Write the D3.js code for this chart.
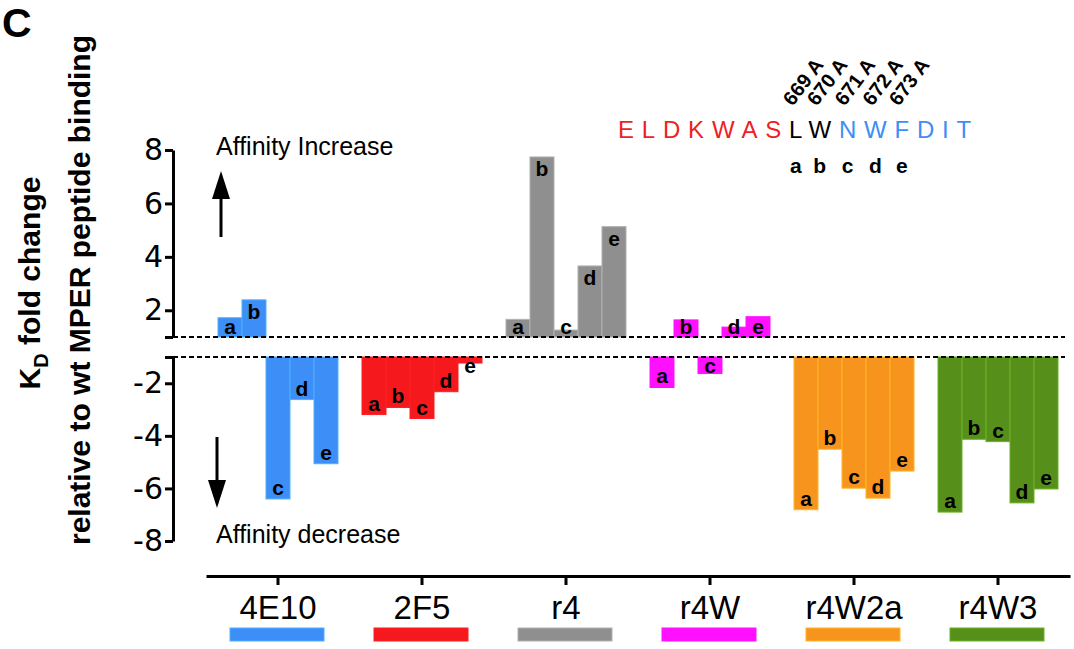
<!DOCTYPE html>
<html>
<head>
<meta charset="utf-8">
<script src="https://cdn.jsdelivr.net/npm/d3@7"></script>
<style>
    body { margin: 0; background: #fff; }
    svg text { font-family: "Liberation Sans", Arial, Helvetica, sans-serif; }
</style>
</head>
<body>
<div id="chart-area"></div>
<script>
const groups = ['4E10', '2F5', 'r4', 'r4W', 'r4W2a', 'r4W3'];
const mutants = ['a', 'b', 'c', 'd', 'e'];

// KD fold change per mutant (a-e)
const kd4E10  = [1.72, 2.39, -6.40, -2.62, -5.06];
const kd2F5   = [-3.19, -2.92, -3.34, -2.32, -1.23];
const kdR4    = [1.66, 7.74, 1.26, 3.66, 5.13];
const kdR4W   = [-2.16, 1.64, -1.63, 1.37, 1.76];
const kdR4W2a = [-6.81, -4.51, -5.99, -6.37, -5.34];
const kdR4W3  = [-6.90, -4.13, -4.22, -6.55, -6.02];
const series = [kd4E10, kd2F5, kdR4, kdR4W, kdR4W2a, kdR4W3];

const groupColors = ['#3d8ef6', '#f5191e', '#8f8f8f', '#ff10ff', '#f7941e', '#56901a'];

const upperTicks = [2, 4, 6, 8];
const lowerTicks = [-2, -4, -6, -8];

const seqParts = ['ELDKWAS', 'LW', 'NWFDIT'];
const seqColors = ['#f01e23', '#000000', '#3d8ef6'];
const mutationLabels = ['669 A', '670 A', '671 A', '672 A', '673 A'];

const svg = d3.select('#chart-area')
    .append('svg')
    .attr('width', 1074)
    .attr('height', 649);

const x = d3.scaleBand().domain(groups).range([206, 1070]);
const xm = d3.scaleBand().domain(mutants).range([-60, 60]);
const yUp = d3.scaleLinear().domain([1, 8]).range([337, 150]);
const yDown = d3.scaleLinear().domain([-1, -8]).range([357, 541]);

const axisX = 173;

// bars
const bars = groups.flatMap((g, i) => series[i].map((v, j) => ({
    group: g, mutant: mutants[j], value: v, color: groupColors[i]
})));

const barX = d => x(d.group) + x.bandwidth() / 2 + xm(d.mutant);

svg.append('g')
    .selectAll('rect')
    .data(bars)
    .join('rect')
    .attr('x', barX)
    .attr('width', xm.bandwidth())
    .attr('y', d => d.value > 0 ? yUp(d.value) : yDown(-1))
    .attr('height', d => d.value > 0 ? yUp(1) - yUp(d.value) : yDown(d.value) - yDown(-1))
    .attr('fill', d => d.color)
    .attr('stroke', d => d3.color(d.color).brighter(0.6))
    .attr('stroke-width', 1);

svg.append('g')
    .selectAll('text')
    .data(bars)
    .join('text')
    .attr('x', d => barX(d) + xm.bandwidth() / 2)
    .attr('y', d => d.value > 0
        ? Math.min(yUp(d.value) + 19, yUp(1) - 3)
        : Math.max(yDown(d.value) - 4, yDown(-1) + 16))
    .attr('text-anchor', 'middle')
    .attr('font-size', 21)
    .attr('font-weight', 'bold')
    .text(d => d.mutant);

// dashed baselines
[yUp(1), yDown(-1)].forEach(yy => {
    svg.append('line')
        .attr('x1', axisX).attr('x2', 1065)
        .attr('y1', yy).attr('y2', yy)
        .attr('stroke', '#000')
        .attr('stroke-width', 2)
        .attr('stroke-dasharray', '5,3');
});

// broken y axis
function styleAxis(g, fontSize, family) {
    g.select('.domain').attr('stroke-width', 3);
    g.selectAll('.tick line').attr('stroke-width', 3);
    g.selectAll('.tick text').attr('font-size', fontSize).attr('fill', '#000');
    if (family) g.selectAll('.tick text').style('font-family', family);
}

svg.append('g')
    .attr('transform', `translate(${axisX},0)`)
    .call(d3.axisLeft(yUp).tickValues([1, ...upperTicks]).tickSize(8).tickSizeOuter(0)
        .tickPadding(2).tickFormat(d => d === 1 ? '' : String(d)))
    .call(g => styleAxis(g, 30, '"DejaVu Sans", sans-serif'));

svg.append('g')
    .attr('transform', `translate(${axisX},0)`)
    .call(d3.axisLeft(yDown).tickValues([-1, ...lowerTicks]).tickSize(8).tickSizeOuter(0)
        .tickPadding(2).tickFormat(d => d === -1 ? '' : String(d)))
    .call(g => styleAxis(g, 30, '"DejaVu Sans", sans-serif'));

// x axis
svg.append('g')
    .attr('transform', 'translate(0,576)')
    .call(d3.axisBottom(x).tickSize(9).tickSizeOuter(0))
    .call(g => styleAxis(g, 33))
    .call(g => g.selectAll('.tick text').attr('y', 20));

// group colour keys
svg.append('g')
    .selectAll('rect')
    .data(groups)
    .join('rect')
    .attr('x', d => x(d) + x.bandwidth() / 2 - 48)
    .attr('y', 628)
    .attr('width', 94)
    .attr('height', 13)
    .attr('fill', (d, i) => groupColors[i])
    .attr('stroke', (d, i) => d3.color(groupColors[i]).brighter(0.6))
    .attr('stroke-width', 1);

// affinity arrows
svg.append('line').attr('x1', 221).attr('x2', 221).attr('y1', 237).attr('y2', 196)
    .attr('stroke', '#000').attr('stroke-width', 3);
svg.append('path').attr('d', 'M221,171 L212,199 L230,199 Z').attr('fill', '#000');
svg.append('line').attr('x1', 217).attr('x2', 217).attr('y1', 437).attr('y2', 484)
    .attr('stroke', '#000').attr('stroke-width', 3);
svg.append('path').attr('d', 'M217,508 L208,480 L226,480 Z').attr('fill', '#000');

svg.append('text').attr('x', 216).attr('y', 155).attr('font-size', 25)
    .text('Affinity Increase');
svg.append('text').attr('x', 216).attr('y', 543).attr('font-size', 25)
    .text('Affinity decrease');

// y label
const yl1 = svg.append('text')
    .attr('transform', 'translate(40,283) rotate(-90)')
    .attr('text-anchor', 'middle')
    .attr('font-size', 30)
    .attr('font-weight', 'bold');
yl1.append('tspan').text('K');
yl1.append('tspan').attr('font-size', 20).attr('dy', 8).text('D');
yl1.append('tspan').attr('dy', -8).text(' fold change');

svg.append('text')
    .attr('transform', 'translate(90,290) rotate(-90)')
    .attr('text-anchor', 'middle')
    .attr('font-size', 30)
    .attr('font-weight', 'bold')
    .text('relative to wt MPER peptide binding');

// panel letter
svg.append('text').attr('x', 2).attr('y', 37).attr('font-size', 41)
    .attr('font-weight', 'bold').text('C');

// peptide sequence
const seqText = svg.append('text')
    .attr('x', 618).attr('y', 138)
    .attr('font-size', 24)
    .style('letter-spacing', '7.8px');
seqParts.forEach((s, i) => seqText.append('tspan').attr('fill', seqColors[i]).text(s));

const seqNode = seqText.node();
const measure = svg.append('text').attr('font-size', 24).attr('x', -1000).attr('y', -1000);
const firstMut = seqParts[0].length;
const seqAll = seqParts.join('');

mutants.forEach((m, k) => {
    const idx = firstMut + k;
    const start = seqNode.getStartPositionOfChar(idx).x;
    measure.text(seqAll[idx]);
    const cx = start + measure.node().getComputedTextLength() / 2;

    svg.append('text')
        .attr('x', cx).attr('y', 173)
        .attr('text-anchor', 'middle')
        .attr('font-size', 21)
        .attr('font-weight', 'bold')
        .text(m);

    svg.append('text')
        .attr('transform', `translate(${cx - 3},107) rotate(-53)`)
        .attr('font-size', 20)
        .attr('font-weight', 'bold')
        .text(mutationLabels[k]);
});
measure.remove();
</script>
</body>
</html>
